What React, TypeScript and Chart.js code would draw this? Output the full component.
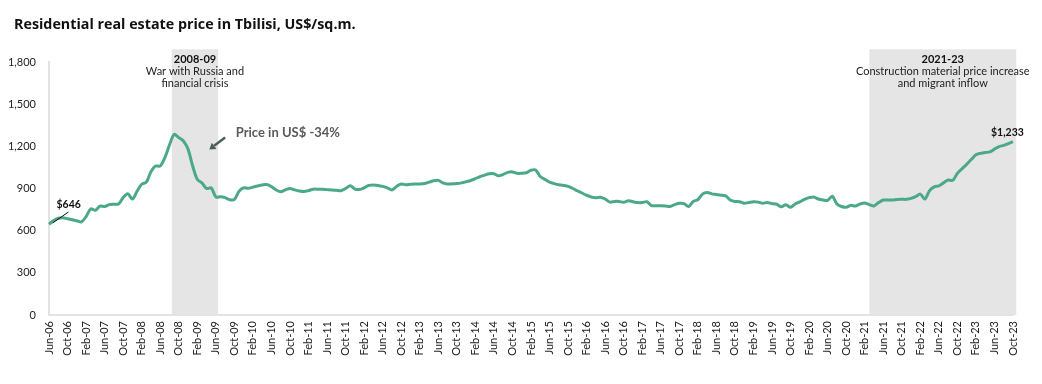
import React, { useEffect, useRef } from "react";
import { Chart, registerables } from "chart.js";

Chart.register(...registerables);

const MONTHS = ["Jan", "Feb", "Mar", "Apr", "May", "Jun", "Jul", "Aug", "Sep", "Oct", "Nov", "Dec"];
const START_MONTH = 5; // June
const START_YEAR = 2006;
const N_POINTS = 209;

const categories: string[] = [];
for (let i = 0; i < N_POINTS; i++) {
  const mi = START_MONTH + i;
  const y = START_YEAR + Math.floor(mi / 12);
  categories.push(`${MONTHS[mi % 12]}-${String(y % 100).padStart(2, "0")}`);
}

const priceUSD: number[] = [
  646, 672, 688, 692, 685, 678, 670, 662, 700, 755,
  745, 775, 772, 785, 788, 790, 835, 862, 825, 880,
  930, 945, 1020, 1060, 1060, 1120, 1210, 1285, 1262, 1238,
  1180, 1060, 965, 940, 900, 905, 840, 842, 835, 820,
  822, 880, 905, 901, 910, 918, 925, 928, 913, 890,
  877, 890, 900, 890, 882, 878, 885, 895, 895, 894,
  892, 890, 887, 884, 900, 920, 896, 893, 905, 922,
  925, 922, 915, 905, 890, 915, 932, 927, 930, 932,
  932, 935, 945, 955, 958, 940, 932, 933, 935, 940,
  948, 957, 970, 985, 995, 1005, 1005, 990, 1000, 1015,
  1018, 1008, 1008, 1012, 1030, 1032, 985, 965, 945, 935,
  927, 922, 915, 900, 884, 868, 852, 840, 835, 838,
  825, 803, 808, 808, 802, 813, 806, 800, 800, 806,
  778, 778, 778, 776, 772, 785, 795, 792, 772, 808,
  820, 860, 872, 862, 857, 852, 848, 818, 808, 806,
  795, 800, 805, 803, 795, 800, 792, 788, 770, 785,
  766, 790, 805, 823, 835, 840, 825, 818, 815, 845,
  790, 772, 766, 780, 775, 790, 797, 785, 776, 800,
  818, 818, 818, 822, 823, 823, 830, 842, 860, 825,
  885, 912, 918, 940, 960, 958, 1008, 1040, 1072, 1106,
  1140, 1150, 1156, 1160, 1180, 1198, 1207, 1220, 1233,
];

const yTicks: number[] = [0, 300, 600, 900, 1200, 1500, 1800];
const TICK_EVERY = 4;

const shadeStarts: string[] = ["Aug-08", "Mar-21"];
const shadeEnds: string[] = ["Jun-09", "Oct-23"];
const shadeStartOffsets: number[] = [0.5, 0];
const shadeEndOffsets: number[] = [0.5, 0.7];
const shadeTitles: string[] = ["2008-09", "2021-23"];
const shadeLines: string[][] = [
  ["War with Russia and", "financial crisis"],
  ["Construction material price increase", "and migrant inflow"],
];
const SHADE_TOP_VALUE = 1890;

const TITLE = "Residential real estate price in Tbilisi, US$/sq.m.";
const CALLOUT = "Price in US$ -34%";
const startLabel = "$646";
const endLabel = "$1,233";

const FONT = "Lato, 'Noto Sans', sans-serif";
const TITLE_FONT = "'Open Sans', Lato, sans-serif";
const LINE_COLOR = "#4ba88b";

const annotationPlugin = {
  id: "annotations",
  beforeDraw(chart: any) {
    const { ctx, chartArea, scales } = chart;
    const x = scales.x;
    const y = scales.y;
    ctx.save();
    ctx.fillStyle = "#e5e5e5";
    const top = y.getPixelForValue(SHADE_TOP_VALUE);
    shadeStarts.forEach((s, i) => {
      const x0 = x.getPixelForValue(categories.indexOf(s) + shadeStartOffsets[i]);
      const x1 = x.getPixelForValue(categories.indexOf(shadeEnds[i]) + shadeEndOffsets[i]);
      ctx.fillRect(x0, top, x1 - x0, chartArea.bottom - top);
    });
    ctx.restore();
  },
  afterDraw(chart: any) {
    const { ctx, scales } = chart;
    const x = scales.x;
    const y = scales.y;
    ctx.save();
    // title, sized to span the same width as the original
    ctx.fillStyle = "#111";
    let size = 14;
    ctx.font = `bold ${size}px ${TITLE_FONT}`;
    const w = ctx.measureText(TITLE).width;
    size = Math.min(16, Math.max(13, size * (342 / w)));
    ctx.font = `bold ${size}px ${TITLE_FONT}`;
    ctx.textAlign = "left";
    ctx.textBaseline = "middle";
    ctx.fillText(TITLE, 14, 25);

    // shade texts
    const top = y.getPixelForValue(SHADE_TOP_VALUE);
    shadeStarts.forEach((s, i) => {
      const x0 = x.getPixelForValue(categories.indexOf(s) + shadeStartOffsets[i]);
      const x1 = x.getPixelForValue(categories.indexOf(shadeEnds[i]) + shadeEndOffsets[i]);
      const cx = (x0 + x1) / 2;
      ctx.textAlign = "center";
      ctx.textBaseline = "middle";
      ctx.fillStyle = "#111";
      ctx.font = `bold 11px ${FONT}`;
      ctx.fillText(shadeTitles[i], cx, top + 10);
      ctx.font = `11px ${FONT}`;
      ctx.fillStyle = "#222";
      shadeLines[i].forEach((ln, j) => ctx.fillText(ln, cx, top + 22.5 + j * 11.5));
    });

    // callout
    ctx.font = `bold 13px ${FONT}`;
    ctx.fillStyle = "#5a5a5a";
    ctx.textAlign = "left";
    ctx.fillText(CALLOUT, x.getPixelForValue(40.3), y.getPixelForValue(1295));
    // arrow
    const ax0 = x.getPixelForValue(38), ay0 = y.getPixelForValue(1262);
    const ax1 = x.getPixelForValue(34.6), ay1 = y.getPixelForValue(1178);
    ctx.strokeStyle = "#4d5e58";
    ctx.fillStyle = "#4d5e58";
    ctx.lineWidth = 2.5;
    const ang = Math.atan2(ay1 - ay0, ax1 - ax0);
    const hx = ax1 - Math.cos(ang) * 6, hy = ay1 - Math.sin(ang) * 6;
    ctx.beginPath();
    ctx.moveTo(ax0, ay0);
    ctx.lineTo(hx, hy);
    ctx.stroke();
    ctx.beginPath();
    ctx.moveTo(ax1, ay1);
    ctx.lineTo(hx + Math.cos(ang + Math.PI / 2) * 4, hy + Math.sin(ang + Math.PI / 2) * 4);
    ctx.lineTo(hx + Math.cos(ang - Math.PI / 2) * 4, hy + Math.sin(ang - Math.PI / 2) * 4);
    ctx.closePath();
    ctx.fill();

    // start label
    ctx.font = `bold 10.5px ${FONT}`;
    ctx.fillStyle = "#111";
    ctx.textAlign = "center";
    ctx.fillText(startLabel, x.getPixelForValue(4.25), y.getPixelForValue(782));
    ctx.strokeStyle = "#111";
    ctx.lineWidth = 1;
    ctx.beginPath();
    ctx.moveTo(x.getPixelForValue(4.2), y.getPixelForValue(733));
    ctx.lineTo(x.getPixelForValue(0.8), y.getPixelForValue(655));
    ctx.stroke();

    // end label
    ctx.fillText(endLabel, x.getPixelForValue(206.8), y.getPixelForValue(1295));
    ctx.restore();
  },
};

export default function App() {
  const ref = useRef<HTMLCanvasElement | null>(null);
  useEffect(() => {
    if (!ref.current) return;
    const chart = new Chart(ref.current, {
      type: "line",
      data: {
        labels: categories,
        datasets: [
          {
            data: priceUSD,
            borderColor: LINE_COLOR,
            borderWidth: 3,
            pointRadius: 0,
            tension: 0.3,
            fill: false,
          },
        ],
      },
      options: {
        animation: false,
        responsive: true,
        maintainAspectRatio: false,
        layout: { padding: { top: 62, right: 29, left: 0, bottom: 0 } },
        plugins: {
          legend: { display: false },
          tooltip: { enabled: false },
          title: { display: false },
        },
        scales: {
          x: {
            type: "category",
            offset: false,
            grid: { display: false, drawTicks: false },
            border: { display: true, color: "#e3e3e3", width: 2 },
            ticks: {
              autoSkip: false,
              maxRotation: 90,
              minRotation: 90,
              padding: 6,
              color: "#222",
              font: { family: FONT, size: 11 },
              callback: (_v: any, i: number) => (i % TICK_EVERY === 0 ? categories[i] : null),
            },
            afterFit: (s: any) => {
              s.height = 69;
            },
          },
          y: {
            min: 0,
            max: 1800,
            grid: { display: false, drawTicks: false },
            border: { display: true, color: "#e3e3e3", width: 2 },
            afterBuildTicks: (s: any) => {
              s.ticks = yTicks.map((v) => ({ value: v }));
            },
            ticks: {
              padding: 13,
              color: "#222",
              font: { family: FONT, size: 11 },
              callback: (v: any) => Number(v).toLocaleString("en-US"),
            },
            afterFit: (s: any) => {
              s.width = 49;
            },
          },
        },
      },
      plugins: [annotationPlugin],
    });
    return () => chart.destroy();
  }, []);
  return (
    <div style={{ position: "absolute", left: 0, top: 0, width: 1042, height: 384, background: "#fff" }}>
      <canvas ref={ref} />
    </div>
  );
}
